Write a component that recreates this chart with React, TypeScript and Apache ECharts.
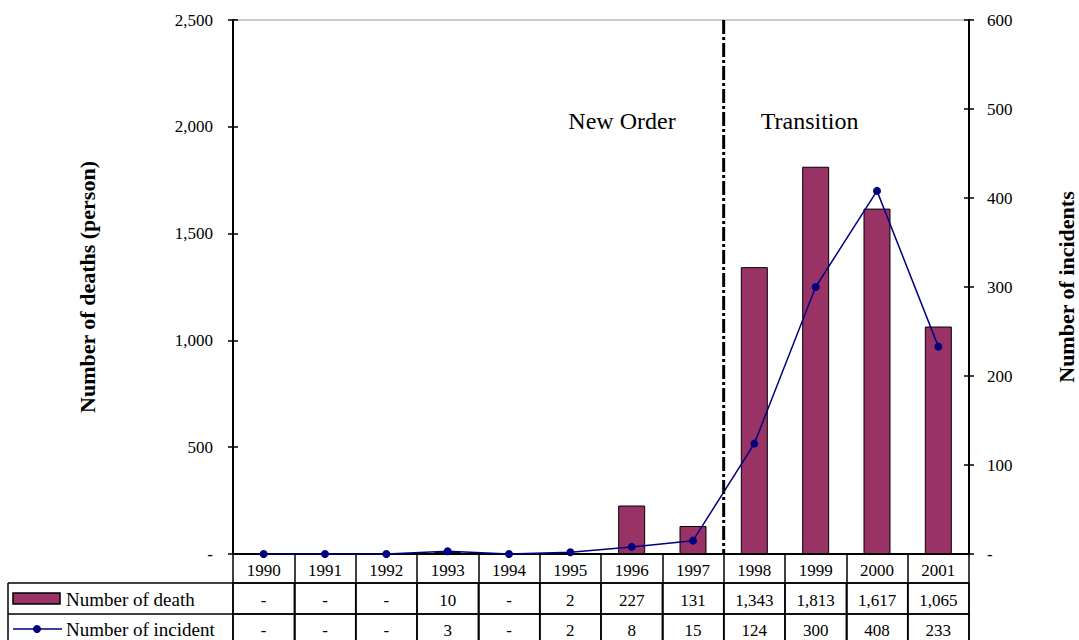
import React, { useEffect, useRef } from 'react';
import * as echarts from 'echarts';

const years = ['1990', '1991', '1992', '1993', '1994', '1995', '1996', '1997', '1998', '1999', '2000', '2001'];
const deaths = [0, 0, 0, 10, 0, 2, 227, 131, 1343, 1813, 1617, 1065];
const incidents = [0, 0, 0, 3, 0, 2, 8, 15, 124, 300, 408, 233];
const deathAxis = { min: 0, max: 2500, interval: 500 };
const incidentAxis = { min: 0, max: 600, interval: 100 };
const periodLabels = ['New Order', 'Transition'];
const seriesNames = ['Number of death', 'Number of incident'];
const axisTitles = ['Number of deaths (person)', 'Number of incidents'];
const dividerAfter = '1997';

const FONT = '"Liberation Serif", "Times New Roman", serif';
const BAR = '#993366';
const NAVY = '#000080';

const fmt = (v: number) => (v === 0 ? '-' : v.toLocaleString('en-US'));

export default function App() {
  const ref = useRef<HTMLDivElement>(null);
  useEffect(() => {
    if (!ref.current) return;
    const chart = echarts.init(ref.current, undefined, { renderer: 'svg' });
    const labelStyle = { fontFamily: FONT, fontSize: 17, color: '#000' };
    const tableAxis = (offset: number, tickLen: number, values: number[] | null, margin: number) => ({
      type: 'category',
      data: years,
      position: 'bottom',
      offset,
      axisLine: { show: true, onZero: false, lineStyle: { color: '#000', width: offset === 0 ? 2 : 1.5 } },
      axisTick: { show: true, interval: 0, length: tickLen, lineStyle: { color: '#000', width: 1.5 } },
      axisLabel: {
        ...labelStyle,
        interval: 0,
        margin,
        formatter: (v: string, i: number) => (values ? fmt(values[i]) : v),
      },
      splitLine: { show: false },
    });
    const yBase = (pos: 'left' | 'right', range: any) => ({
      type: 'value',
      position: pos,
      ...range,
      splitLine: { show: false },
    });
    const nameStyle = { fontFamily: FONT, fontSize: 22, fontWeight: 'bold', color: '#000' };
    chart.setOption({
      animation: false,
      grid: {
        left: 233,
        right: 110,
        top: 20,
        bottom: 86,
        show: true,
        borderColor: '#999',
        borderWidth: 1,
        containLabel: false,
        outerBoundsMode: 'none',
      },
      xAxis: [tableAxis(0, 29, null, 8), tableAxis(29, 31, deaths, 9), tableAxis(60, 30, incidents, 8)],
      yAxis: [
        {
          ...yBase('left', deathAxis),
          axisLine: { show: true, onZero: false, lineStyle: { color: '#000', width: 2 } },
          axisTick: { show: true, length: 5, lineStyle: { color: '#000', width: 1.5 } },
          axisLabel: { ...labelStyle, margin: 20, formatter: (v: number) => fmt(v) },
          name: axisTitles[0],
          nameLocation: 'middle',
          nameGap: 135,
          nameRotate: 90,
          nameMoveOverlap: false,
          nameTextStyle: nameStyle,
        },
        {
          ...yBase('right', incidentAxis),
          axisLine: { show: true, onZero: false, lineStyle: { color: '#000', width: 2 } },
          axisTick: { show: true, length: 5, lineStyle: { color: '#000', width: 1.5 } },
          axisLabel: { ...labelStyle, margin: 18, formatter: (v: number) => fmt(v) },
          name: axisTitles[1],
          nameLocation: 'middle',
          nameGap: 86,
          nameRotate: 90,
          nameMoveOverlap: false,
          nameTextStyle: nameStyle,
        },
        {
          ...yBase('left', deathAxis),
          axisLine: { show: false, onZero: false },
          axisTick: { show: true, inside: true, length: 5, lineStyle: { color: '#000', width: 1.5 } },
          axisLabel: { show: false },
        },
        {
          ...yBase('right', incidentAxis),
          axisLine: { show: false, onZero: false },
          axisTick: { show: true, inside: true, length: 5, lineStyle: { color: '#000', width: 1.5 } },
          axisLabel: { show: false },
        },
      ],
      series: [
        {
          name: seriesNames[0],
          type: 'bar',
          xAxisIndex: 0,
          yAxisIndex: 0,
          data: deaths,
          barWidth: '44%',
          itemStyle: { color: BAR, borderColor: '#000', borderWidth: 1 },
          z: 2,
        },
        {
          name: seriesNames[1],
          type: 'line',
          xAxisIndex: 0,
          yAxisIndex: 1,
          data: incidents,
          symbol: 'circle',
          symbolSize: 8,
          lineStyle: { color: NAVY, width: 1.5 },
          itemStyle: { color: NAVY },
          z: 5,
        },
      ],
    });

    const di = years.indexOf(dividerAfter);
    const xa = chart.convertToPixel({ xAxisIndex: 0 }, years[di]) as number;
    const xb2 = chart.convertToPixel({ xAxisIndex: 0 }, years[di + 1]) as number;
    const xd = (xa + xb2) / 2;
    const yTop = chart.convertToPixel({ yAxisIndex: 0 }, deathAxis.max) as number;
    const yBot = chart.convertToPixel({ yAxisIndex: 0 }, deathAxis.min) as number;
    const xLeft = chart.convertToPixel({ xAxisIndex: 0 }, years[0]) as number;
    const xRight = chart.convertToPixel({ xAxisIndex: 0 }, years[years.length - 1]) as number;
    const colW = xb2 - xa;
    const gridLeft = xLeft - colW / 2;
    const gridRight = xRight + colW / 2;
    const row2 = yBot + 29;
    const row3 = yBot + 60;
    const boxLeft = 8;
    const textY = yTop + 101;

    const tableLines: any[] = [];
    [row2, row3].forEach((y) => {
      tableLines.push({
        type: 'line',
        shape: { x1: boxLeft, y1: y, x2: gridRight, y2: y },
        style: { stroke: '#000', lineWidth: 1.5 },
      });
    });
    for (let i = 0; i <= years.length; i++) {
      const x = gridLeft + i * colW;
      tableLines.push({
        type: 'line',
        shape: { x1: x, y1: row2, x2: x, y2: row3 + 40 },
        style: { stroke: '#000', lineWidth: 1.5 },
      });
    }
    tableLines.push({
      type: 'line',
      shape: { x1: boxLeft, y1: row2, x2: boxLeft, y2: row3 + 40 },
      style: { stroke: '#000', lineWidth: 1.5 },
    });

    chart.setOption({
      graphic: [
        {
          type: 'line',
          shape: { x1: xd, y1: yTop, x2: xd, y2: yBot },
          style: { stroke: '#000', lineWidth: 3, lineDash: [14, 3, 3, 3] },
          z: 10,
        },
        {
          type: 'text',
          x: xd - 48,
          y: textY,
          style: { text: periodLabels[0], font: `24px ${FONT}`, fill: '#000', align: 'right', verticalAlign: 'middle' },
        },
        {
          type: 'text',
          x: xd + 37,
          y: textY,
          style: { text: periodLabels[1], font: `24px ${FONT}`, fill: '#000', align: 'left', verticalAlign: 'middle' },
        },
        ...tableLines,
        {
          type: 'rect',
          shape: { x: boxLeft + 5, y: row2 + 10, width: 47, height: 11 },
          style: { fill: BAR, stroke: '#000', lineWidth: 1.5 },
        },
        {
          type: 'text',
          x: boxLeft + 58,
          y: (row2 + row3) / 2 + 1,
          style: { text: seriesNames[0], font: `19px ${FONT}`, fill: '#000', align: 'left', verticalAlign: 'middle' },
        },
        {
          type: 'line',
          shape: { x1: boxLeft + 5, y1: row3 + 15, x2: boxLeft + 54, y2: row3 + 15 },
          style: { stroke: NAVY, lineWidth: 1.5 },
        },
        { type: 'circle', shape: { cx: boxLeft + 29, cy: row3 + 15, r: 4 }, style: { fill: NAVY } },
        {
          type: 'text',
          x: boxLeft + 58,
          y: row3 + 15,
          style: { text: seriesNames[1], font: `19px ${FONT}`, fill: '#000', align: 'left', verticalAlign: 'middle' },
        },
      ],
    });
    return () => chart.dispose();
  }, []);
  return <div ref={ref} style={{ position: 'absolute', left: 0, top: 0, width: 1079, height: 640 }} />;
}
